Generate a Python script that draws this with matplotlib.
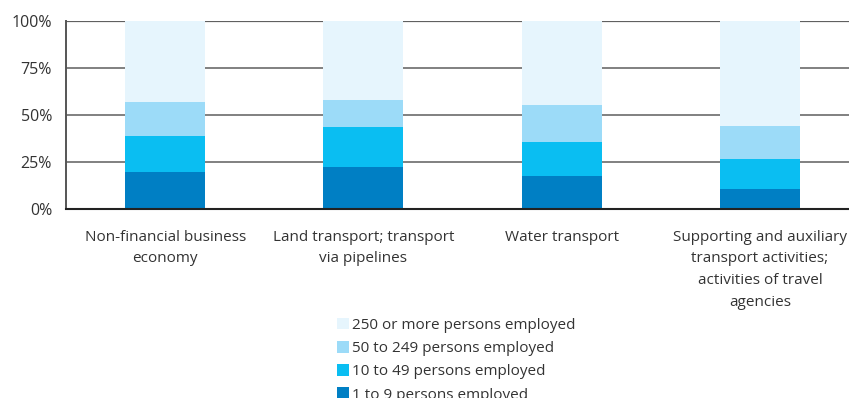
import matplotlib
matplotlib.use("Agg")
import matplotlib.pyplot as plt
import numpy as np
from matplotlib.patches import Patch

plt.rcParams['font.family'] = ['Open Sans', 'DejaVu Sans']

categories = [
    "Non-financial business\neconomy",
    "Land transport; transport\nvia pipelines",
    "Water transport",
    "Supporting and auxiliary\ntransport activities;\nactivities of travel\nagencies",
]
series_labels = [
    "1 to 9 persons employed",
    "10 to 49 persons employed",
    "50 to 249 persons employed",
    "250 or more persons employed",
]
micro = [19.8, 22.5, 17.7, 10.8]
small = [19.2, 21.2, 18.1, 16.0]
medium = [18.1, 14.4, 19.7, 17.5]
large = [42.9, 41.9, 44.5, 55.7]
yticks = [0, 25, 50, 75, 100]
ytick_labels = ["0%", "25%", "50%", "75%", "100%"]

colors = ["#007fc4", "#0abef2", "#9cdbf8", "#e6f5fd"]

W, H = 849, 398
fig = plt.figure(figsize=(W / 100, H / 100), dpi=100)
ax = fig.add_axes([66 / W, (H - 209) / H, (W - 66) / W, 188 / H])

x = np.arange(len(categories))
bottom = np.zeros(len(categories))
handles = []
for vals, col, lab in zip([micro, small, medium, large], colors, series_labels):
    ax.bar(x, vals, width=0.403, bottom=bottom, color=col, zorder=3, linewidth=0)
    bottom += np.array(vals)
    handles.append(Patch(facecolor=col, edgecolor='none', label=lab))

ax.set_xlim(-0.5, -0.5 + 783 / 198.3)
ax.set_ylim(0, 100)
ax.set_yticks(yticks)
ax.set_yticklabels(ytick_labels, fontsize=11.5, color="#333333")
ax.set_xticks(x)
ax.set_xticklabels(categories, fontsize=11, color="#333333", linespacing=1.6, va="top")
ax.tick_params(axis='both', length=0)
ax.tick_params(axis='y', pad=10)
ax.tick_params(axis='x', pad=15)

for y in yticks[1:]:
    ax.axhline(y, color="#808080", lw=1.4, zorder=1)
ax.axhline(100, color="#606060", lw=1.6, zorder=1)

for s in ["top", "right"]:
    ax.spines[s].set_visible(False)
ax.spines["left"].set_color("#555555")
ax.spines["left"].set_linewidth(1.4)
ax.spines["bottom"].set_color("#222222")
ax.spines["bottom"].set_linewidth(1.5)
ax.spines["bottom"].set_zorder(4)

fig.legend(handles[::-1], [h.get_label() for h in handles[::-1]],
           loc="upper left", bbox_to_anchor=(337 / W, 1 - 318 / H),
           frameon=False, fontsize=11, labelcolor="#333333",
           handlelength=0.78, handleheight=0.78, handletextpad=0.2,
           labelspacing=0.53, borderaxespad=0, borderpad=0)

fig.savefig("out.png", dpi=100)
